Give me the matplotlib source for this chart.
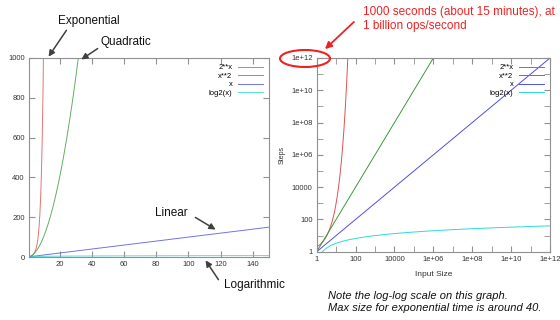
import numpy as np
import matplotlib
matplotlib.use("Agg")
import matplotlib.pyplot as plt
from matplotlib.patches import Ellipse, FancyArrowPatch
from matplotlib.ticker import FixedLocator, FixedFormatter

plt.rcParams['font.family'] = ['Liberation Sans', 'DejaVu Sans']

W, H = 560, 320

# series (the growth functions being compared)
labels = ['2**x', 'x**2', 'x', 'log2(x)']
colors = ['#e05050', '#3a9a3a', '#5050e0', '#30d8d8']
funcs = [lambda x: 2.0 ** x, lambda x: x ** 2, lambda x: x, lambda x: np.log2(x)]

# left (linear) panel
lin_x = np.linspace(1, 150, 600)
lin_xticks = [20, 40, 60, 80, 100, 120, 140]
lin_yticks = [0, 200, 400, 600, 800, 1000]

# right (log-log) panel
log_x = np.logspace(0, 12, 800)
exp_x = np.logspace(0, np.log10(40), 400)
log_major = [1, 1e2, 1e4, 1e6, 1e8, 1e10, 1e12]
log_major_labels = ['1', '100', '10000', '1e+06', '1e+08', '1e+10', '1e+12']
log_minor = [1e1, 1e3, 1e5, 1e7, 1e9, 1e11]


def fpos(x, y):
    return (x / W, 1 - y / H)


fig = plt.figure(figsize=(5.6, 3.2), dpi=100)
ax1 = fig.add_axes([29 / W, 1 - 257 / H, 240 / W, 199 / H])
ax2 = fig.add_axes([316.7 / W, 1 - 251.7 / H, 233.3 / W, 193.7 / H])


def style(ax):
    for s in ax.spines.values():
        s.set_color('#909090')
        s.set_linewidth(0.8)
    ax.tick_params(which='both', direction='in', top=True, right=True,
                   labelsize=5.5, colors='#909090', labelcolor='#333333')
    ax.tick_params(which='major', length=4, pad=3)
    ax.tick_params(which='minor', length=2)


with np.errstate(over='ignore'):
    for f, lab, c in zip(funcs, labels, colors):
        ax1.plot(lin_x, f(lin_x), color=c, lw=0.7, label=lab, alpha=0.8)
ax1.set_xlim(1, 150)
ax1.set_ylim(0, 1000)
ax1.set_xticks(lin_xticks)
ax1.set_yticks(lin_yticks)
style(ax1)
ax1.legend(loc='upper right', frameon=False, markerfirst=False, fontsize=5.5,
           handlelength=3.2, labelspacing=0.15, borderaxespad=0.4, handletextpad=0.8)

for f, lab, c in zip(funcs, labels, colors):
    xx = exp_x if lab == '2**x' else log_x
    ax2.plot(xx, f(xx), color=c, lw=0.7, label=lab)
ax2.set_xscale('log')
ax2.set_yscale('log')
ax2.set_xlim(1, 1e12)
ax2.set_ylim(1, 1e12)
for axis in (ax2.xaxis, ax2.yaxis):
    axis.set_major_locator(FixedLocator(log_major))
    axis.set_major_formatter(FixedFormatter(log_major_labels))
    axis.set_minor_locator(FixedLocator(log_minor))
    axis.set_minor_formatter(FixedFormatter([''] * len(log_minor)))
style(ax2)
ax2.tick_params(which='minor', length=4)
ax2.set_xlabel('Input Size', fontsize=6, color='#333333', labelpad=6)
ax2.set_ylabel('Steps', fontsize=5, color='#333333', labelpad=4)
ax2.legend(loc='upper right', frameon=False, markerfirst=False, fontsize=5.5,
           handlelength=3.2, labelspacing=0.15, borderaxespad=0.4, handletextpad=0.8)

# annotations on left panel
arrow_kw = dict(arrowstyle='-|>', color='#404040', lw=1.1, mutation_scale=9)
ann = [('Exponential', (89, 21), (68, 28), (47, 59)),
       ('Quadratic', (126, 42), (100, 47), (79, 61)),
       ('Linear', (171, 213), (193, 216), (218, 231)),
       ('Logarithmic', (254, 285), (220, 282), (204, 258))]
for txt, tpos, a0, a1 in ann:
    fig.text(*fpos(*tpos), txt, fontsize=8.5, ha='center', va='center', color='#111111')
    fig.add_artist(FancyArrowPatch(fpos(*a0), fpos(*a1), transform=fig.transFigure, **arrow_kw))

# red note on right panel
fig.text(*fpos(363, 19), '1000 seconds (about 15 minutes), at\n1 billion ops/second',
         fontsize=8.5, color='#ee2222', ha='left', va='center', linespacing=1.15)
fig.add_artist(FancyArrowPatch(fpos(356, 20), fpos(323, 51), transform=fig.transFigure,
                               arrowstyle='-|>', color='#ee2222', lw=1.3, mutation_scale=10))
fig.add_artist(Ellipse(fpos(305, 58.5), 50 / W, 17 / H, transform=fig.transFigure,
                       fill=False, edgecolor='#ee2222', lw=1.5))

fig.text(*fpos(328, 302), 'Note the log-log scale on this graph.\nMax size for exponential time is around 40.',
         fontsize=8, style='italic', color='#111111', ha='left', va='center', linespacing=1.25)

fig.savefig('out.png', dpi=100)
